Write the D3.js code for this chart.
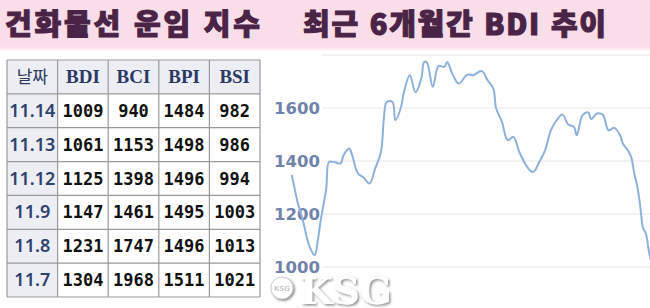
<!DOCTYPE html>
<html lang="ko">
<head>
<meta charset="UTF-8">
<title>건화물선 운임 지수</title>
<script src="https://d3js.org/d3.v7.min.js"></script>
<style>
    body { margin: 0; background: #fff; }
    svg { display: block; }
    .title { font-family: "Noto Sans CJK KR", sans-serif; font-weight: 900; fill: #4a2446; stroke: #4a2446; stroke-width: 1.1px; }
    .cell-num { font-family: "DejaVu Sans Mono", monospace; font-weight: bold; font-size: 17px; fill: #111; }
    .cell-date { font-family: "Noto Sans", sans-serif; font-weight: 600; font-size: 18px; fill: #2f416d; }
    .cell-head { font-family: "Liberation Serif", serif; font-weight: bold; font-size: 19px; fill: #2b3964; }
    .cell-head-kr { font-family: "Noto Sans CJK KR", sans-serif; font-size: 17px; fill: #2b3964; }
    .ylabel { font-family: "DejaVu Sans", sans-serif; font-weight: bold; font-size: 16.5px; fill: #6f83aa; }
    .wm-big { font-family: "DejaVu Serif", serif; font-weight: bold; font-size: 37px; fill: #fff; }
    .wm-small { font-family: "DejaVu Sans", sans-serif; font-weight: bold; font-size: 7px; fill: #c8c8c8; }
</style>
</head>
<body>
<script>
// titles
const titleLeft = "건화물선 운임 지수";
const titleRight = "최근 6개월간 BDI 추이";

// table
const tableCols = ["날짜", "BDI", "BCI", "BPI", "BSI"];
const dates = ["11.14", "11.13", "11.12", "11.9", "11.8", "11.7"];
const bdiRow = [1009, 1061, 1125, 1147, 1231, 1304];
const bciRow = [940, 1153, 1398, 1461, 1747, 1968];
const bpiRow = [1484, 1498, 1496, 1495, 1496, 1511];
const bsiRow = [982, 986, 994, 1003, 1013, 1021];

// BDI trend, last ~6 months (trading day index)
const yTicks = [1000, 1200, 1400, 1600, 1800];
const trendDays = [0, 1, 2, 4, 6, 8, 9, 10, 12, 13, 15, 17, 18, 20, 21, 23, 25, 27, 29, 31, 32, 33, 35, 36, 38, 39,
    41, 43, 45, 46, 47, 49, 51, 53, 54, 56, 58, 61, 63, 66, 68, 70, 71, 73, 75, 77, 79, 81, 83, 84,
    86, 88, 90, 92, 94, 96, 98, 99, 101, 103, 104, 106, 108, 110, 112, 114, 115, 117, 118, 119,
    120, 121, 122, 123, 124, 125];
const trendBdi = [1347, 1297, 1246, 1171, 1083, 1045, 1095, 1171, 1297, 1397, 1395, 1391, 1422, 1447, 1422, 1353, 1337, 1315, 1372, 1435, 1560, 1623, 1623, 1554, 1605, 1661,
    1724, 1659, 1711, 1774, 1771, 1680, 1759, 1755, 1774, 1724, 1692, 1726, 1724, 1739, 1705, 1674, 1598, 1548, 1479, 1491, 1435, 1391, 1362, 1359,
    1397, 1441, 1516, 1554, 1575, 1538, 1529, 1497, 1573, 1583, 1558, 1579, 1575, 1516, 1525, 1497, 1466, 1435, 1410, 1350,
    1304, 1231, 1147, 1125, 1061, 1009];

const width = 650, height = 308;

const svg = d3.select("body").append("svg")
    .attr("width", width)
    .attr("height", height);

const defs = svg.append("defs");
const grad = defs.append("linearGradient").attr("id", "band").attr("x1", 0).attr("x2", 0).attr("y1", 0).attr("y2", 1);
grad.append("stop").attr("offset", "0.9").attr("stop-color", "#f9dde8");
grad.append("stop").attr("offset", "1").attr("stop-color", "#ffffff");

const shadow = defs.append("filter").attr("id", "wm").attr("x", "-20%").attr("y", "-20%").attr("width", "140%").attr("height", "140%");
shadow.append("feDropShadow").attr("dx", 1.5).attr("dy", 1.5).attr("stdDeviation", 1.2).attr("flood-color", "#8f8f8f");

// header band
svg.append("rect").attr("x", 0).attr("y", 0).attr("width", width).attr("height", 52).attr("fill", "url(#band)");

svg.append("text").attr("class", "title")
    .attr("x", 5).attr("y", 35)
    .attr("font-size", 29)
    .attr("textLength", 255).attr("lengthAdjust", "spacing")
    .text(titleLeft);

svg.append("text").attr("class", "title")
    .attr("x", 303).attr("y", 35)
    .attr("font-size", 29)
    .attr("textLength", 303).attr("lengthAdjust", "spacing")
    .text(titleRight);

// ---- table ----
const colX = d3.scaleBand().domain(tableCols).range([7, 260]);
const rowY = d3.scaleBand().domain(["head", ...dates]).range([60, 297]);

const rows = dates.map((d, i) => [d, bdiRow[i], bciRow[i], bpiRow[i], bsiRow[i]]);

const table = svg.append("g");

// shaded header row and date column
table.append("rect")
    .attr("x", colX.range()[0]).attr("y", rowY("head"))
    .attr("width", colX.range()[1] - colX.range()[0]).attr("height", rowY.bandwidth())
    .attr("fill", "#eceef3");
table.append("rect")
    .attr("x", colX("날짜")).attr("y", rowY("head"))
    .attr("width", colX.bandwidth()).attr("height", rowY.range()[1] - rowY.range()[0])
    .attr("fill", "#eceef3");

// grid lines of the table
const vLines = tableCols.map(c => colX(c)).concat([colX.range()[1]]);
const hLines = rowY.domain().map(r => rowY(r)).concat([rowY.range()[1]]);
table.selectAll("line.v").data(vLines).join("line")
    .attr("x1", d => d).attr("x2", d => d)
    .attr("y1", rowY.range()[0]).attr("y2", rowY.range()[1])
    .attr("stroke", "#9a9a9a").attr("stroke-width", 1.2);
table.selectAll("line.h").data(hLines).join("line")
    .attr("y1", d => d).attr("y2", d => d)
    .attr("x1", colX.range()[0]).attr("x2", colX.range()[1])
    .attr("stroke", "#9a9a9a").attr("stroke-width", 1.2);

// header texts
table.selectAll("text.head").data(tableCols).join("text")
    .attr("class", (d, i) => i === 0 ? "cell-head-kr" : "cell-head")
    .attr("x", d => colX(d) + colX.bandwidth() / 2)
    .attr("y", rowY("head") + rowY.bandwidth() / 2 + 6)
    .attr("text-anchor", "middle")
    .text(d => d);

// body texts
rows.forEach(r => {
    table.selectAll(null).data(r).join("text")
        .attr("class", (d, i) => i === 0 ? "cell-date" : "cell-num")
        .attr("x", (d, i) => colX(tableCols[i]) + colX.bandwidth() / 2)
        .attr("y", rowY(r[0]) + rowY.bandwidth() / 2 + 6)
        .attr("text-anchor", "middle")
        .text(d => d);
});

// ---- BDI chart ----
const x = d3.scaleLinear().domain([0, 125]).range([291.7, 651.7]);
const y = d3.scaleLinear().domain([1000, 1800]).range([267, 55]);

const grid = svg.append("g");
grid.selectAll("line").data(yTicks).join("line")
    .attr("x1", 322).attr("x2", width)
    .attr("y1", d => y(d)).attr("y2", d => y(d))
    .attr("stroke", "#e6e6e6").attr("stroke-width", 1);

grid.selectAll("text").data(yTicks.filter(t => t < 1800)).join("text")
    .attr("class", "ylabel")
    .attr("x", 320).attr("y", d => y(d) + 6)
    .attr("text-anchor", "end")
    .text(d => d);

const line = d3.line()
    .x(d => x(d[0]))
    .y(d => y(d[1]))
    .curve(d3.curveCatmullRom.alpha(0.5));

svg.append("path")
    .datum(trendDays.map((d, i) => [d, trendBdi[i]]))
    .attr("fill", "none")
    .attr("stroke", "#8db1da")
    .attr("stroke-width", 2)
    .attr("d", line);

// watermark
const wm = svg.append("g").attr("filter", "url(#wm)");
wm.append("circle").attr("cx", 282).attr("cy", 288).attr("r", 11)
    .attr("fill", "#fff").attr("stroke", "#d0d0d0").attr("stroke-width", 1);
wm.append("text").attr("class", "wm-small")
    .attr("x", 282).attr("y", 291)
    .attr("text-anchor", "middle")
    .text("KSG");
wm.append("text").attr("class", "wm-big")
    .attr("x", 300).attr("y", 304)
    .attr("textLength", 92).attr("lengthAdjust", "spacingAndGlyphs")
    .text("KSG");
</script>
</body>
</html>
